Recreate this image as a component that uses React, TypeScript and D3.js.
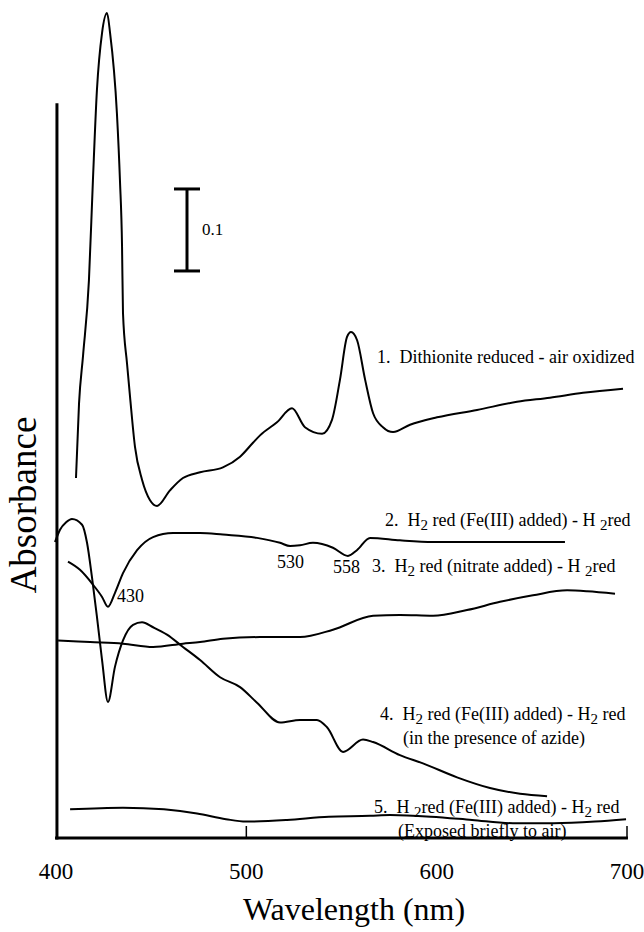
import React, { useRef, useEffect } from "react";
import * as d3 from "d3";

// x ticks (nm)
const wavelengthTicks = [400, 500, 600, 700];
const innerTicks = [500, 700];

// 1. Dithionite reduced - air oxidized
const curve1Nm = [410.5, 412.1, 414.2, 417.3, 419.4, 421.5, 424.2, 426.8, 428.4, 432.0, 433.6, 434.7, 435.2, 437.3, 438.9, 441.5, 445.2, 449.4, 453.1, 459.9, 466.7, 475.7, 487.7, 496.7, 503.5, 507.2, 516.1, 524.0, 530.8, 539.8, 545.0, 549.2, 552.9, 555.0, 558.2, 562.4, 566.6, 571.8, 577.1, 586.0, 600.2, 621.2, 642.2, 659.5, 676.9, 697.9];
const curve1Abs = [0.439, 0.530, 0.588, 0.680, 0.802, 0.912, 0.982, 1.006, 0.982, 0.884, 0.802, 0.721, 0.640, 0.579, 0.538, 0.477, 0.437, 0.412, 0.405, 0.424, 0.439, 0.446, 0.452, 0.465, 0.482, 0.491, 0.507, 0.524, 0.501, 0.493, 0.510, 0.559, 0.611, 0.617, 0.607, 0.559, 0.518, 0.501, 0.495, 0.504, 0.513, 0.522, 0.532, 0.537, 0.543, 0.548];

// 2. H2 red (Fe(III) added) - H2 red
const curve2Nm = [406.3, 412.6, 419.4, 424.2, 427.3, 431.0, 435.2, 442.6, 451.0, 461.5, 475.7, 487.7, 505.6, 517.7, 523.0, 528.2, 535.0, 545.5, 553.4, 558.1, 565.0, 580.7, 598.1, 633.3, 667.4];
const curve2Abs = [0.337, 0.327, 0.309, 0.294, 0.282, 0.299, 0.323, 0.351, 0.367, 0.372, 0.372, 0.370, 0.366, 0.360, 0.356, 0.357, 0.360, 0.354, 0.344, 0.351, 0.366, 0.363, 0.361, 0.361, 0.361];

// 3. H2 red (nitrate added) - H2 red
const curve3Nm = [401.1, 417.9, 435.2, 451.0, 466.7, 475.7, 487.7, 507.2, 528.2, 545.5, 566.6, 580.7, 598.1, 615.9, 633.3, 650.6, 668.5, 679.0, 693.7];
const curve3Abs = [0.241, 0.239, 0.237, 0.233, 0.237, 0.239, 0.243, 0.245, 0.245, 0.254, 0.271, 0.272, 0.271, 0.278, 0.288, 0.296, 0.302, 0.301, 0.298];

// 4. H2 red (Fe(III) added) - H2 red, azide
const curve4Nm = [399.5, 402.1, 405.3, 408.4, 413.7, 416.3, 418.9, 421.5, 424.2, 427.3, 431.0, 435.2, 440.5, 445.2, 451.0, 458.3, 466.7, 475.7, 486.2, 496.7, 505.6, 517.7, 528.2, 537.1, 542.4, 550.8, 561.3, 566.6, 580.7, 592.8, 610.7, 628.0, 643.8, 658.0];
const curve4Abs = [0.361, 0.376, 0.385, 0.389, 0.382, 0.360, 0.318, 0.270, 0.217, 0.166, 0.209, 0.241, 0.260, 0.263, 0.257, 0.248, 0.233, 0.217, 0.196, 0.184, 0.165, 0.141, 0.144, 0.144, 0.135, 0.105, 0.120, 0.117, 0.101, 0.091, 0.074, 0.061, 0.054, 0.051];

// 5. H2 red (Fe(III) added) - H2 red, exposed to air
const curve5Nm = [407.4, 435.2, 456.7, 474.1, 489.3, 499.8, 521.4, 543.4, 565.0, 575.5, 597.0, 618.6, 640.1, 661.6, 683.2, 699.5];
const curve5Abs = [0.035, 0.037, 0.035, 0.030, 0.023, 0.020, 0.022, 0.026, 0.027, 0.028, 0.026, 0.022, 0.018, 0.018, 0.020, 0.023];

// label texts, [text, isSubscript]
const label1 = [["1.  Dithionite reduced - air oxidized", false]];
const label2 = [["2.  H", false], ["2", true], [" red (Fe(III) added) - H ", false], ["2", true], ["red", false]];
const label3 = [["3.  H", false], ["2", true], [" red (nitrate added) - H ", false], ["2", true], ["red", false]];
const label4a = [["4.  H", false], ["2", true], [" red (Fe(III) added) - H", false], ["2", true], [" red", false]];
const label4b = [["(in the presence of azide)", false]];
const label5a = [["5.  H ", false], ["2", true], ["red (Fe(III) added) - H", false], ["2", true], [" red", false]];
const label5b = [["(Exposed briefly to air)", false]];
const peakLabels = ["430", "530", "558"];
const scaleBarLabel = "0.1";
const xTitle = "Wavelength (nm)";
const yTitle = "Absorbance";

export default function App() {
    const ref = useRef(null);

    useEffect(() => {
        const width = 644;
        const height = 932;
        const font = "Liberation Serif";

        const x = d3.scaleLinear().domain([400, 700]).range([56, 627]);
        const y = d3.scaleLinear().domain([0, 1]).range([838, 18]);

        const svg = d3.select(ref.current)
            .append("svg")
            .attr("width", width)
            .attr("height", height)
            .attr("font-family", font)
            .style("position", "absolute")
            .style("left", 0)
            .style("top", 0)
            .style("background", "#fff");

        // axes
        svg.append("line")
            .attr("x1", x(400.5)).attr("x2", x(400.5))
            .attr("y1", y(0.896)).attr("y2", y(0) + 1.5)
            .attr("stroke", "#000").attr("stroke-width", 3);
        svg.append("line")
            .attr("x1", x(399.5)).attr("x2", x(700.5))
            .attr("y1", y(0)).attr("y2", y(0))
            .attr("stroke", "#000").attr("stroke-width", 3);
        svg.selectAll(".inner-tick")
            .data(innerTicks)
            .enter().append("line")
            .attr("x1", d => x(d)).attr("x2", d => x(d))
            .attr("y1", y(0)).attr("y2", y(0) - 12)
            .attr("stroke", "#000").attr("stroke-width", 1.5);
        svg.selectAll(".tick-label")
            .data(wavelengthTicks)
            .enter().append("text")
            .attr("x", d => x(d))
            .attr("y", y(0) + 41)
            .attr("text-anchor", "middle")
            .attr("font-family", font)
            .attr("font-size", 23)
            .text(d => d);

        svg.append("text")
            .attr("x", 354).attr("y", 920)
            .attr("text-anchor", "middle")
            .attr("font-family", font)
            .attr("font-size", 32)
            .text(xTitle);
        svg.append("text")
            .attr("transform", "translate(36, 505) rotate(-90)")
            .attr("text-anchor", "middle")
            .attr("font-family", font)
            .attr("font-size", 37)
            .text(yTitle);

        // scale bar 0.1
        const barX = 187;
        const barLo = 0.6915;
        const bar = svg.append("g").attr("stroke", "#000").attr("stroke-width", 3);
        bar.append("line").attr("x1", barX).attr("x2", barX).attr("y1", y(barLo)).attr("y2", y(barLo + 0.1));
        bar.append("line").attr("x1", barX - 13).attr("x2", barX + 13).attr("y1", y(barLo)).attr("y2", y(barLo));
        bar.append("line").attr("x1", barX - 13).attr("x2", barX + 13).attr("y1", y(barLo + 0.1)).attr("y2", y(barLo + 0.1));
        svg.append("text").attr("x", 202).attr("y", 235)
            .attr("font-family", font).attr("font-size", 17).text(scaleBarLabel);

        // spectra
        const line = d3.line()
            .x(d => x(d[0]))
            .y(d => y(d[1]))
            .curve(d3.curveMonotoneX);
        const series = [
            [curve1Nm, curve1Abs],
            [curve2Nm, curve2Abs],
            [curve3Nm, curve3Abs],
            [curve4Nm, curve4Abs],
            [curve5Nm, curve5Abs],
        ];
        series.forEach(([nm, abs]) => {
            svg.append("path")
                .datum(d3.zip(nm, abs))
                .attr("d", line)
                .attr("fill", "none")
                .attr("stroke", "#000")
                .attr("stroke-width", 2)
                .attr("stroke-linejoin", "round");
        });

        // labels with subscripts
        const addLabel = (lx, ly, parts) => {
            const t = svg.append("text")
                .attr("x", lx).attr("y", ly)
                .attr("font-family", font)
                .attr("font-size", 18)
                .style("white-space", "pre");
            let down = false;
            parts.forEach(([s, sub]) => {
                const ts = t.append("tspan").text(s);
                if (sub && !down) { ts.attr("dy", 4).attr("font-size", 15); down = true; }
                else if (sub) { ts.attr("font-size", 15); }
                else if (down) { ts.attr("dy", -4); down = false; }
            });
        };
        addLabel(377, 363, label1);
        addLabel(385, 526, label2);
        addLabel(372, 572, label3);
        addLabel(380, 720, label4a);
        addLabel(403, 744, label4b);
        addLabel(374, 813, label5a);
        addLabel(398, 837, label5b);

        const peakPos = [[117, 602], [277, 568], [333, 573]];
        peakLabels.forEach((s, i) => {
            svg.append("text")
                .attr("x", peakPos[i][0]).attr("y", peakPos[i][1])
                .attr("font-family", font)
                .attr("font-size", 18)
                .text(s);
        });

        return () => {
            svg.remove();
        };
    }, []);

    return <div ref={ref} />;
}
